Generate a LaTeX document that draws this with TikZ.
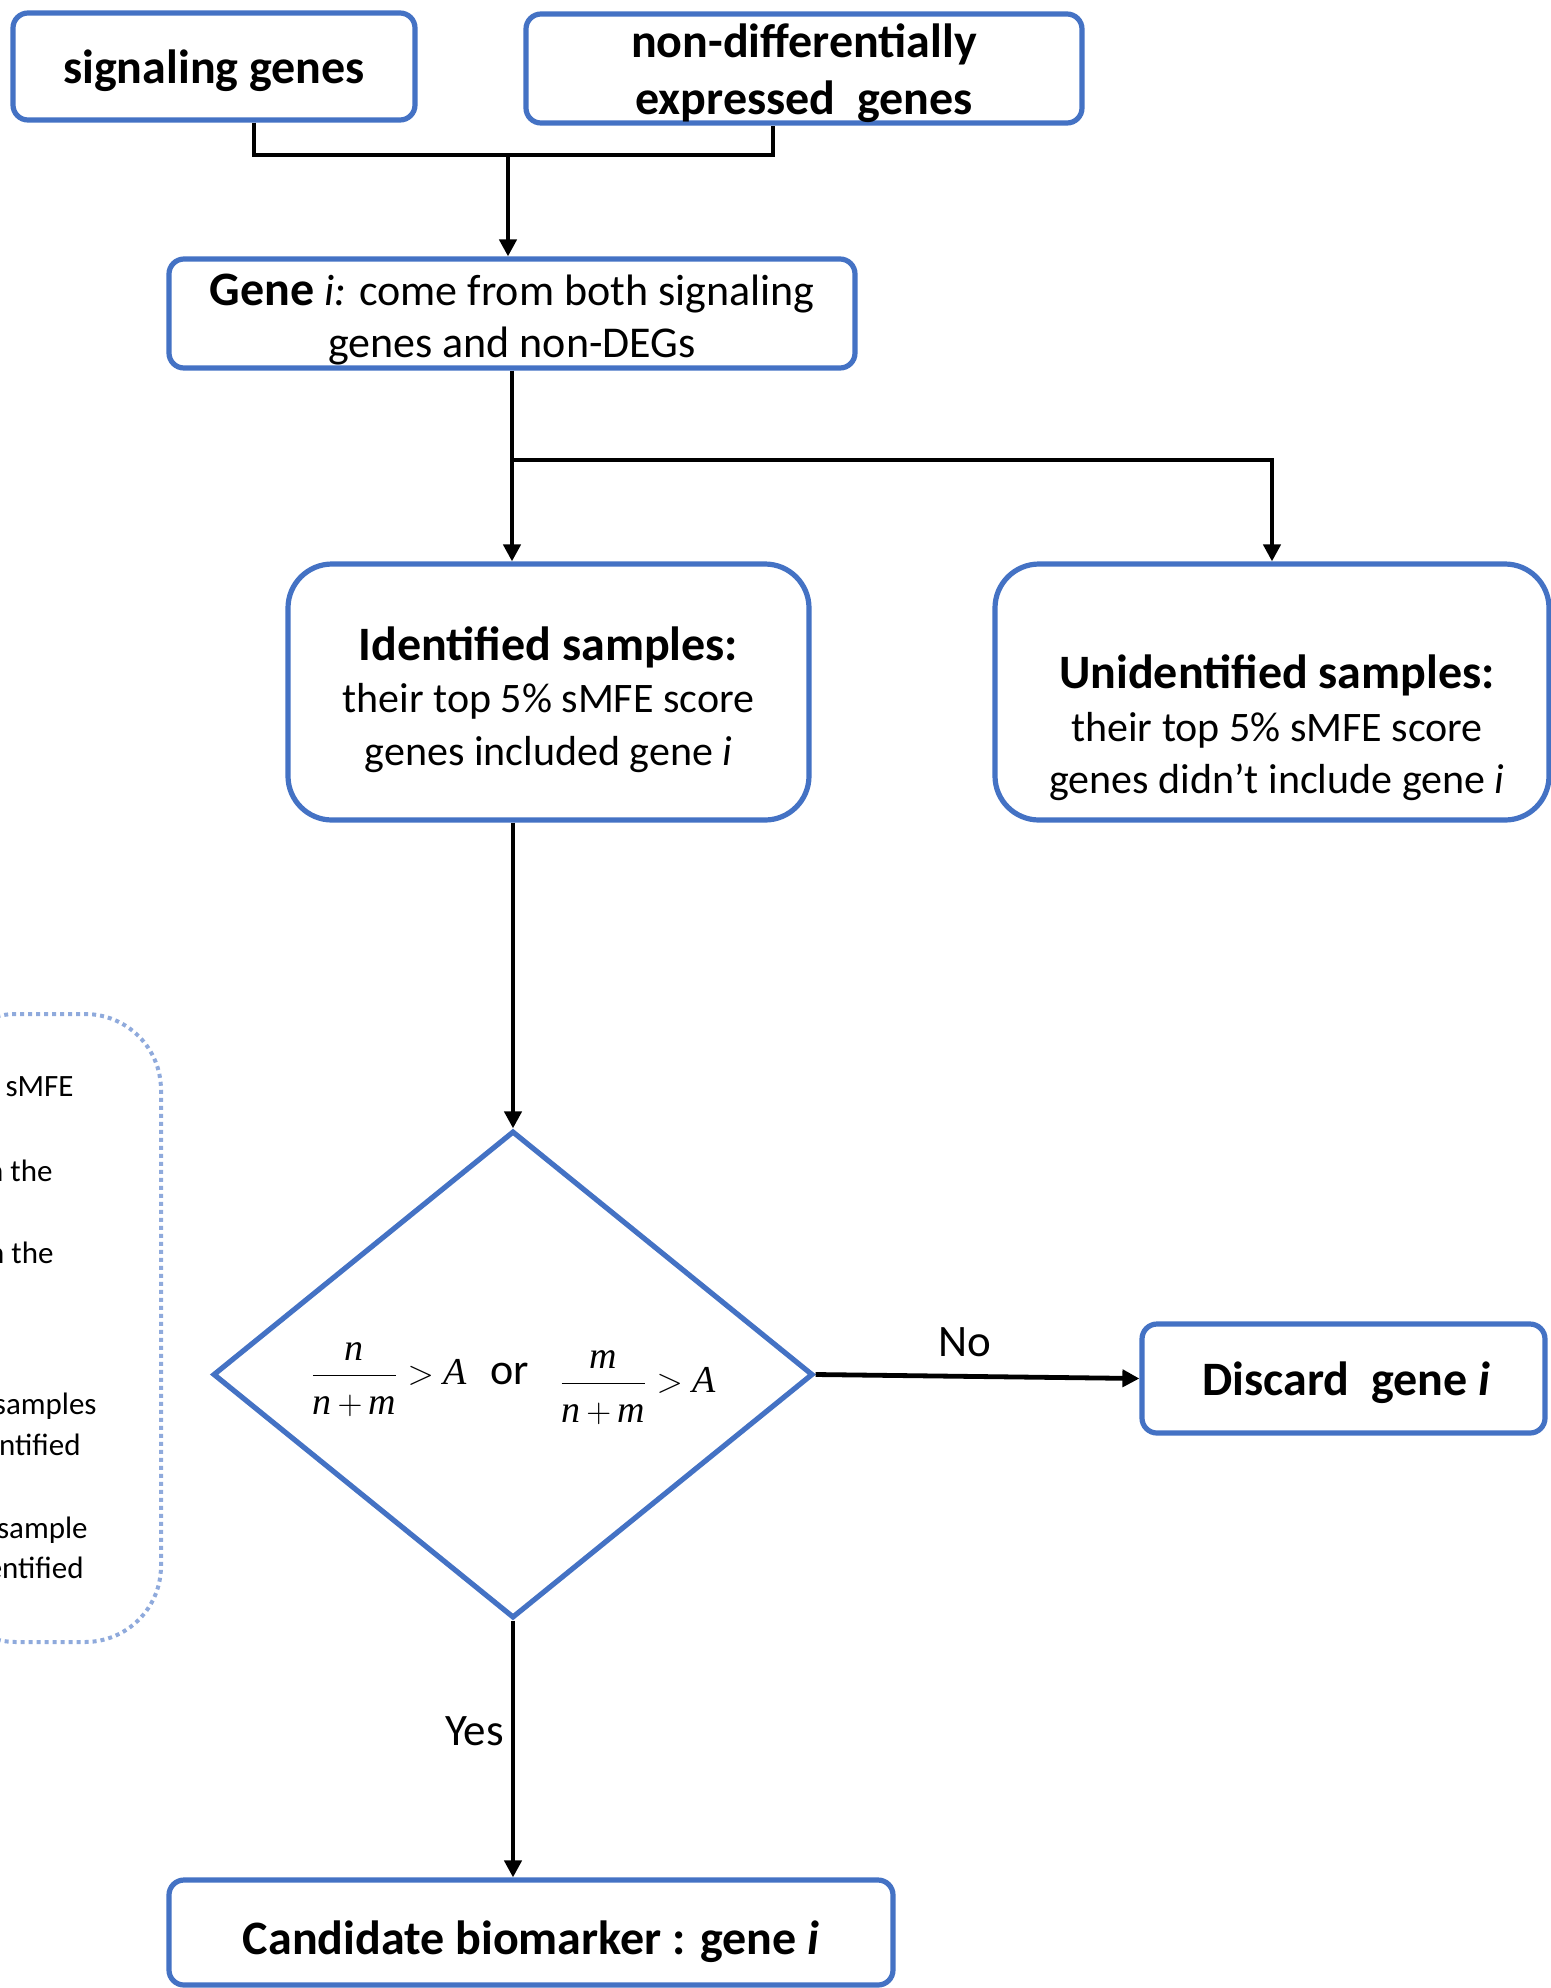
\documentclass[tikz,border=0pt]{standalone}
\usepackage{amsmath}
\usepackage{fontspec}
\setmainfont{Carlito}
\newfontfamily\mathserif{Liberation Serif}
\usepackage{xcolor}
\usepackage{tikz}
\usetikzlibrary{positioning}
\usetikzlibrary{shapes.geometric}
\usetikzlibrary{arrows.meta}

\definecolor{boxblue}{HTML}{4472C4}
\definecolor{dotblue}{HTML}{8FAADC}
\newcommand{\tv}[1]{\text{\mathserif\itshape #1}}
\newcommand{\ratio}[1]{\dfrac{\tv{#1}\rule[-5pt]{0pt}{0pt}}{\rule{0pt}{17pt}\tv{n}\mkern3mu{+}\mkern3mu\tv{m}}\mkern5mu{>}\mkern5mu\tv{A}}

\begin{document}
\begin{tikzpicture}[x=0.5pt, y=-0.5pt, -> , >={Triangle[length=8.5pt,width=8.5pt]},
    line width=2.4pt,
    box/.style={draw=boxblue, line width=2.6pt, rounded corners=7.5pt, inner sep=0pt},
    bigbox/.style={box, rounded corners=22pt},
    boxtext/.style={align=center, inner sep=0pt},
    bigfont/.style={font=\fontsize{24}{28.5}\selectfont\bfseries},
    midfont/.style={font=\fontsize{21}{26.3}\selectfont},
    notefont/.style={font=\fontsize{15.5}{19}\selectfont, anchor=base east, inner sep=0pt}]
        \useasboundingbox (0,0) rectangle (1551,1988);

        \node [box, minimum width=201pt, minimum height=53.5pt] (sig) at (214,66.5) {};
        \node [boxtext, bigfont] (sigtext) at ([yshift=-2pt]sig.center) {signaling genes};
        \node [box, minimum width=278pt, minimum height=54.5pt] (nondeg) at (804,68.5) {};
        \node [boxtext, bigfont] (nondegtext) at ([yshift=-2.5pt]nondeg.center) {non-differentially\\expressed\ \ genes};
        \node [box, minimum width=343pt, minimum height=54.5pt] (gene) at (512,313.5) {};
        \node [boxtext, font=\fontsize{22}{26}\selectfont] (genetext) at ([yshift=-3pt]gene.center)
            {{\fontsize{24}{26}\selectfont\bfseries Gene} \textit{i:} come from both signaling\\genes and non-DEGs};

        \node [bigbox, minimum width=260.5pt, minimum height=128pt] (ident) at (548.5,692) {};
        \node [boxtext, midfont] (identtext) at ([yshift=-3.75pt]ident.center)
            {{\fontsize{24}{26.3}\selectfont\bfseries Identified samples:}\\their top 5\% sMFE score\\genes included gene \textit{i}};
        \node [bigbox, minimum width=277pt, minimum height=128pt] (unident) at (1272,692) {};
        \node [boxtext, midfont] (unidtext) at (1277,728)
            {{\fontsize{24}{26.3}\selectfont\bfseries Unidentified samples:}\\their top 5\% sMFE score\\genes didn't include gene \textit{i}};

        \node [diamond, draw=boxblue, line width=2.6pt, inner sep=0pt, minimum width=300pt, minimum height=242.5pt,
            font=\fontsize{19}{22}\selectfont] (dec) at (513,1374.5)
            {\raisebox{-4.5pt}[\height][\depth]{$\ratio{n}$\hspace{12pt}{\fontsize{22}{26}\selectfont or}\hspace{15pt}\raisebox{-4pt}{$\ratio{m}$}}};

        \node [box, minimum width=201.5pt, minimum height=54.5pt] (discard) at (1343.5,1378.5) {};
        \node [boxtext, bigfont] (discardtext) at ([yshift=-2pt,xshift=1.5pt]discard.center) {Discard\ \ gene \textit{i}};
        \node [box, minimum width=362pt, minimum height=52.5pt] (cand) at (531,1932.5) {};
        \node [boxtext, bigfont] (candtext) at ([yshift=-4.5pt]cand.center) {Candidate biomarker : gene \textit{i}};

        % note box on the left, cut by the page edge
        \draw [-, draw=dotblue, line width=2pt, dash pattern=on 2pt off 2pt, rounded corners=38pt] (-60,1014) rectangle (161,1642);
        \node [notefont] (noteA) at (76,1096) {sMFE};
        \node [notefont] (noteB) at (55,1181) {n the};
        \node [notefont] (noteC) at (56,1263) {n the};
        \node [notefont] (noteD) at (99,1414) {samples};
        \node [notefont] (noteE) at (83,1455) {ntified};
        \node [notefont] (noteF) at (90,1538) {sample};
        \node [notefont] (noteG) at (86,1578) {entified};

        \coordinate (join) at (508,155);
        \coordinate (split) at (511,460);

        \draw [-] ([xshift=20pt]sig.south) |- (join) -| ([xshift=-15.5pt]nondeg.south);
        \draw (join) -- (join |- gene.north);

        \draw (gene.south) -- (gene.south |- ident.north);
        \draw (split) -| (unident.north);

        \draw (dec.north |- ident.south) -- (dec.north);
        \draw (dec.east) -- node[above, pos=0.46, yshift=5pt, font=\fontsize{22.5}{26}\selectfont] (no) {No} (discard.west);
        \draw (dec.south) -- node[left, pos=0.43, font=\fontsize{22.5}{26}\selectfont] (yes) {Yes} (dec.south |- cand.north);
\end{tikzpicture}
\end{document}
